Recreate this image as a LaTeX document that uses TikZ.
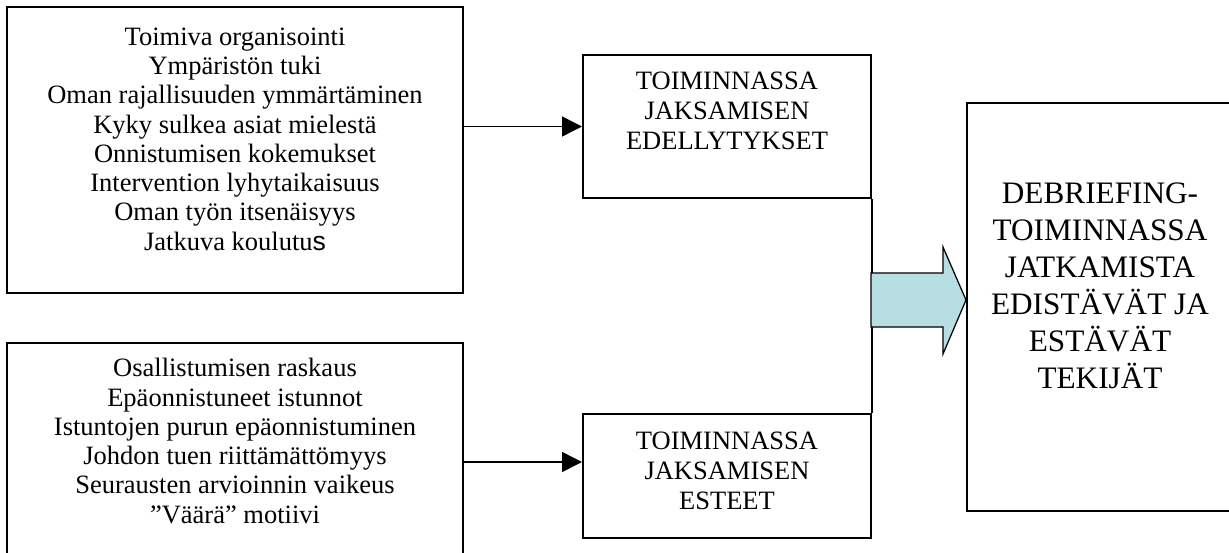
\documentclass[tikz,border=0pt]{standalone}
\usepackage{fontspec}
\setmainfont{Liberation Serif}
\newfontfamily\arialfont{Liberation Sans}
\usetikzlibrary{arrows.meta}
\definecolor{vaaleasyaani}{RGB}{183,222,226}
\begin{document}
\begin{tikzpicture}[x=0.4pt,y=-0.4pt,
  laatikko/.style={draw,line width=0.8pt,inner sep=0pt},
  lista/.style={align=center,inner sep=0pt,font=\fontsize{10.6}{11.7}\selectfont},
  otsikko/.style={align=center,inner sep=0pt,font=\fontsize{10.6}{12}\selectfont},
  nuoli/.style={line width=0.6pt,-{Triangle[length=8pt,width=8pt]}}]
\clip (0,0) rectangle (1229,553);
% vasemmat laatikot
\node[laatikko,minimum width=456*0.4pt,minimum height=286*0.4pt] (vahvat) at (235,150) {};
\node[lista] (vahvatteksti) at (235,139) {Toimiva organisointi\\Ympäristön tuki\\Oman rajallisuuden ymmärtäminen\\Kyky sulkea asiat mielestä\\Onnistumisen kokemukset\\Intervention lyhytaikaisuus\\Oman työn itsenäisyys\\Jatkuva koulutu{\arialfont s}};
\node[laatikko,minimum width=456*0.4pt,minimum height=238*0.4pt] (heikot) at (235,462) {};
\node[lista] (heikotteksti) at (235,441) {Osallistumisen raskaus\\Epäonnistuneet istunnot\\Istuntojen purun epäonnistuminen\\Johdon tuen riittämättömyys\\Seurausten arvioinnin vaikeus\\”Väärä” motiivi};
% keskimmaiset
\node[laatikko,minimum width=288*0.4pt,minimum height=143*0.4pt] (edel) at (727,126.5) {};
\node[otsikko] (edelteksti) at (727,111) {TOIMINNASSA\\JAKSAMISEN\\EDELLYTYKSET};
\node[laatikko,minimum width=288*0.4pt,minimum height=124*0.4pt] (esteet) at (727,476) {};
\node[otsikko] (esteetteksti) at (727,471) {TOIMINNASSA\\JAKSAMISEN\\ESTEET};
% oikea
\node[laatikko,minimum width=266*0.4pt,minimum height=408*0.4pt] (tekijat) at (1100,307) {};
\node[align=center,inner sep=0pt,font=\fontsize{12.5}{14.8}\selectfont] (tekijatteksti) at (1100,286) {DEBRIEFING-\\TOIMINNASSA\\JATKAMISTA\\EDISTÄVÄT JA\\ESTÄVÄT\\TEKIJÄT};
% yhteydet
\draw[nuoli] (vahvat.east |- edel.west) -- (edel.west);
\draw[nuoli] (heikot.east) -- (esteet.west |- heikot.east);
\draw[line width=0.6pt] (edel.south east) -- (esteet.north east);
\draw[line width=0.5pt,fill=vaaleasyaani] (871,273) -- (943,273) -- (943,247) -- (tekijat.west |- 0,300) -- (943,354) -- (943,327) -- (871,327) -- cycle;
\end{tikzpicture}
\end{document}
